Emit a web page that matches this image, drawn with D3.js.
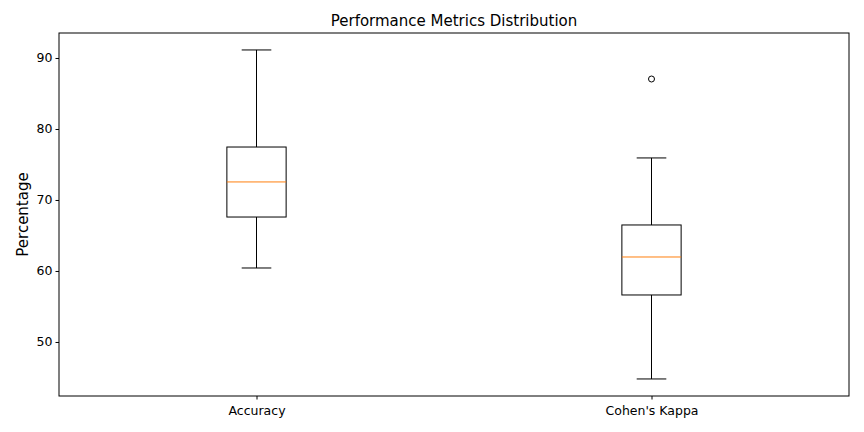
<!DOCTYPE html><html><head><meta charset="utf-8"><script src="https://cdn.jsdelivr.net/npm/d3@7"></script>
<style>body{margin:0;background:#fff}text{font-family:"DejaVu Sans",sans-serif}</style></head><body>
<svg id="c" width="864" height="432"></svg>
<script>
const categories=["Accuracy","Cohen's Kappa"];
const whiskerLow=[60.42,44.79];
const q1=[67.6,56.62];
const medians=[72.54,61.97];
const q3=[77.46,66.48];
const whiskerHigh=[91.13,75.92];
const outliers=[[],[87.04]];
const yTicks=[50,60,70,80,90];
const svg=d3.select("#c");
const L=59,R=849,T=33,B=396;
const x=d3.scaleLinear().domain([0.5,2.5]).range([L,R]);
const y=d3.scaleLinear().domain([42.39,93.52]).range([B,T]);
const g=svg.append("g");
g.append("g").attr("transform",`translate(0,${B})`).call(d3.axisBottom(x).tickValues([1,2]).tickFormat((d,i)=>categories[i]).tickSize(3.5).tickSizeOuter(0))
 .call(a=>{a.select(".domain").remove();a.selectAll("text").attr("font-size",12.5).attr("dy","1em").attr("fill","#000");});
g.append("g").attr("transform",`translate(${L},0)`).call(d3.axisLeft(y).tickValues(yTicks).tickSize(3.5).tickSizeOuter(0))
 .call(a=>{a.select(".domain").remove();a.selectAll("text").attr("font-size",12.5).attr("fill","#000");});
const bw=x(1.075)-x(0.925), cw=bw/2;
categories.forEach((c,i)=>{
 const cx=x(i+1);
 const s=g.append("g").attr("stroke","#000").attr("fill","none");
 s.append("line").attr("x1",cx).attr("x2",cx).attr("y1",y(q3[i])).attr("y2",y(whiskerHigh[i]));
 s.append("line").attr("x1",cx).attr("x2",cx).attr("y1",y(q1[i])).attr("y2",y(whiskerLow[i]));
 [whiskerHigh[i],whiskerLow[i]].forEach(v=>s.append("line").attr("x1",cx-cw/2).attr("x2",cx+cw/2).attr("y1",y(v)).attr("y2",y(v)));
 s.append("rect").attr("x",cx-bw/2).attr("width",bw).attr("y",y(q3[i])).attr("height",y(q1[i])-y(q3[i]));
 s.append("line").attr("x1",cx-bw/2).attr("x2",cx+bw/2).attr("y1",y(medians[i])).attr("y2",y(medians[i])).attr("stroke","#ff7f0e");
 outliers[i].forEach(v=>s.append("circle").attr("cx",cx).attr("cy",y(v)).attr("r",3));
});
svg.append("rect").attr("x",L).attr("y",T).attr("width",R-L).attr("height",B-T).attr("fill","none").attr("stroke","#000");
svg.append("text").attr("x",(L+R)/2).attr("y",26).attr("text-anchor","middle").attr("font-size",15).text("Performance Metrics Distribution");
svg.append("text").attr("transform",`translate(28,${(T+B)/2}) rotate(-90)`).attr("text-anchor","middle").attr("font-size",15).text("Percentage");
</script></body></html>
